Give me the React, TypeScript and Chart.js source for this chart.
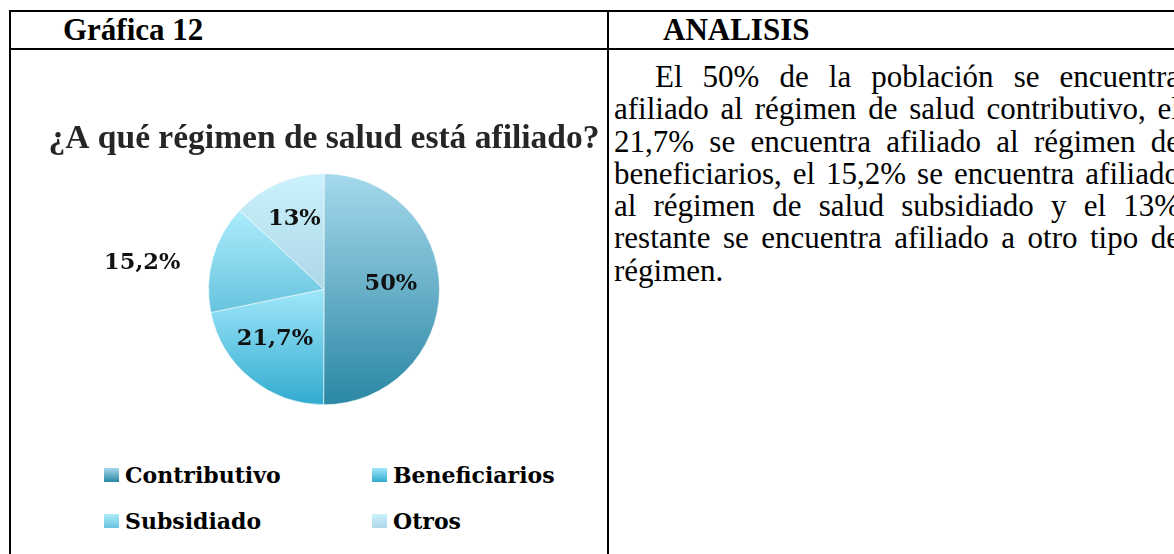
import React, { useEffect, useRef } from 'react';
import { Chart, registerables } from 'chart.js';

Chart.register(...registerables);

// ---------- data ----------
const categories = ['Contributivo', 'Beneficiarios', 'Subsidiado', 'Otros'];
const values = [50, 21.7, 15.2, 13];
const chartTitle = '¿A qué régimen de salud está afiliado?';
const tableHeaders = ['Gráfica 12', 'ANALISIS'];
const analysisLines = [
  'El 50% de la población se encuentra',
  'afiliado al régimen de salud contributivo, el',
  '21,7% se encuentra afiliado al régimen de',
  'beneficiarios, el 15,2% se encuentra afiliado',
  'al régimen de salud subsidiado y el 13%',
  'restante se encuentra afiliado a otro tipo de',
  'régimen.',
];

// ---------- style ----------
const gradientTop = ['#a6d9ed', '#a0e7fa', '#acedfc', '#cbf2fc'];
const gradientBottom = ['#2a87a3', '#31abcf', '#68c3de', '#acd7e7'];
const labelRadius = [0.58, 0.605, 1.59, 0.66];
const labelAngleShift = [-0.07, 0.093, -0.134, 0.01];

const SERIF = '"Liberation Serif", "Times New Roman", serif';
const LABEL_FONT = '"DejaVu Serif", serif';

const formatPct = (v: number) => String(v).replace('.', ',') + '%';

export default function App() {
  const ref = useRef<HTMLCanvasElement>(null);

  useEffect(() => {
    const canvas = ref.current;
    if (!canvas) return;
    const total = values.reduce((a, b) => a + b, 0);

    const sliceGradient = (c: any) => {
      const chart = c.chart;
      const area = chart.chartArea;
      const i = c.dataIndex;
      if (!area || i === undefined) return gradientBottom[i ?? 0];
      const cx = (area.left + area.right) / 2;
      const cy = (area.top + area.bottom) / 2;
      const r = Math.min(area.right - area.left, area.bottom - area.top) / 2;
      let start = -Math.PI / 2;
      for (let k = 0; k < i; k++) start += (values[k] / total) * 2 * Math.PI;
      const end = start + (values[i] / total) * 2 * Math.PI;
      const ys = [cy, cy + r * Math.sin(start), cy + r * Math.sin(end)];
      [-Math.PI / 2, Math.PI / 2, (3 * Math.PI) / 2].forEach((a) => {
        if (a > start && a < end) ys.push(cy + r * Math.sin(a));
      });
      const g = chart.ctx.createLinearGradient(0, Math.min(...ys), 0, Math.max(...ys));
      g.addColorStop(0, gradientTop[i]);
      g.addColorStop(1, gradientBottom[i]);
      return g;
    };

    const labelPlugin = {
      id: 'sliceLabels',
      afterDatasetsDraw(chart: any) {
        const meta = chart.getDatasetMeta(0);
        const ctx = chart.ctx;
        ctx.save();
        ctx.font = `bold 22.5px ${LABEL_FONT}`;
        ctx.fillStyle = '#111111';
        ctx.textAlign = 'center';
        ctx.textBaseline = 'middle';
        meta.data.forEach((arc: any, i: number) => {
          const p = arc.getProps(['x', 'y', 'startAngle', 'endAngle', 'outerRadius'], true);
          const a = (p.startAngle + p.endAngle) / 2 + labelAngleShift[i];
          const d = p.outerRadius * labelRadius[i];
          ctx.fillText(formatPct(values[i]), p.x + Math.cos(a) * d, p.y + Math.sin(a) * d);
        });
        ctx.restore();
      },
    };

    const chart = new Chart(canvas, {
      type: 'pie',
      data: {
        labels: categories,
        datasets: [
          {
            data: values,
            backgroundColor: sliceGradient as any,
            borderColor: 'rgba(255,255,255,0.55)',
            borderWidth: 1,
            hoverOffset: 0,
            offset: 0,
          },
        ],
      },
      options: {
        responsive: false,
        animation: false,
        events: [],
        layout: { padding: { bottom: 19.8 } },
        plugins: {
          legend: { display: false },
          tooltip: { enabled: false },
          title: {
            display: true,
            text: chartTitle,
            color: '#262626',
            font: { family: SERIF, size: 33.5, weight: 'bold', lineHeight: 1.2 },
            padding: { top: 39, bottom: 14 },
          },
        },
      },
      plugins: [labelPlugin],
    });
    return () => chart.destroy();
  }, []);

  const line = (style: React.CSSProperties) => (
    <div style={{ position: 'absolute', background: '#000', ...style }} />
  );

  const legendCols = [104, 372];
  const legendRows = [468, 514];

  return (
    <div
      style={{
        position: 'absolute',
        left: 0,
        top: 0,
        width: 1174,
        height: 554,
        overflow: 'hidden',
        background: '#fff',
      }}
    >
      {line({ left: 9, top: 10, width: 1200, height: 2 })}
      {line({ left: 9, top: 48, width: 1200, height: 2 })}
      {line({ left: 9, top: 10, width: 2, height: 600 })}
      {line({ left: 607, top: 10, width: 2, height: 600 })}

      <div
        style={{
          position: 'absolute',
          left: 63,
          top: 12,
          font: `bold 31px/35.6px ${SERIF}`,
          color: '#000',
          whiteSpace: 'nowrap',
        }}
      >
        {tableHeaders[0]}
      </div>
      <div
        style={{
          position: 'absolute',
          left: 663,
          top: 12,
          font: `bold 31px/35.6px ${SERIF}`,
          color: '#000',
          whiteSpace: 'nowrap',
        }}
      >
        {tableHeaders[1]}
      </div>

      <div
        style={{
          position: 'absolute',
          left: 614,
          top: 61,
          width: 566,
          font: `31px/32.3px ${SERIF}`,
          color: '#000',
        }}
      >
        {analysisLines.map((t, i) => (
          <div
            key={i}
            style={{
              textAlign: i === analysisLines.length - 1 ? 'left' : 'justify',
              textAlignLast: i === analysisLines.length - 1 ? 'left' : 'justify',
              textIndent: i === 0 ? 41 : 0,
            }}
          >
            {t}
          </div>
        ))}
      </div>

      <canvas
        ref={ref}
        width={568}
        height={345}
        style={{ position: 'absolute', left: 40, top: 80, width: 568, height: 345 }}
      />

      {categories.map((c, i) => {
        const col = i % 2;
        const row = Math.floor(i / 2);
        return (
          <React.Fragment key={c}>
            <div
              style={{
                position: 'absolute',
                left: legendCols[col],
                top: legendRows[row],
                width: 15,
                height: 14,
                background: `linear-gradient(to bottom, ${gradientTop[i]}, ${gradientBottom[i]})`,
              }}
            />
            <div
              style={{
                position: 'absolute',
                left: legendCols[col] + 21,
                top: legendRows[row] - 5,
                font: `bold 22px/24px ${LABEL_FONT}`,
                color: '#000',
                whiteSpace: 'nowrap',
              }}
            >
              {c}
            </div>
          </React.Fragment>
        );
      })}
    </div>
  );
}
